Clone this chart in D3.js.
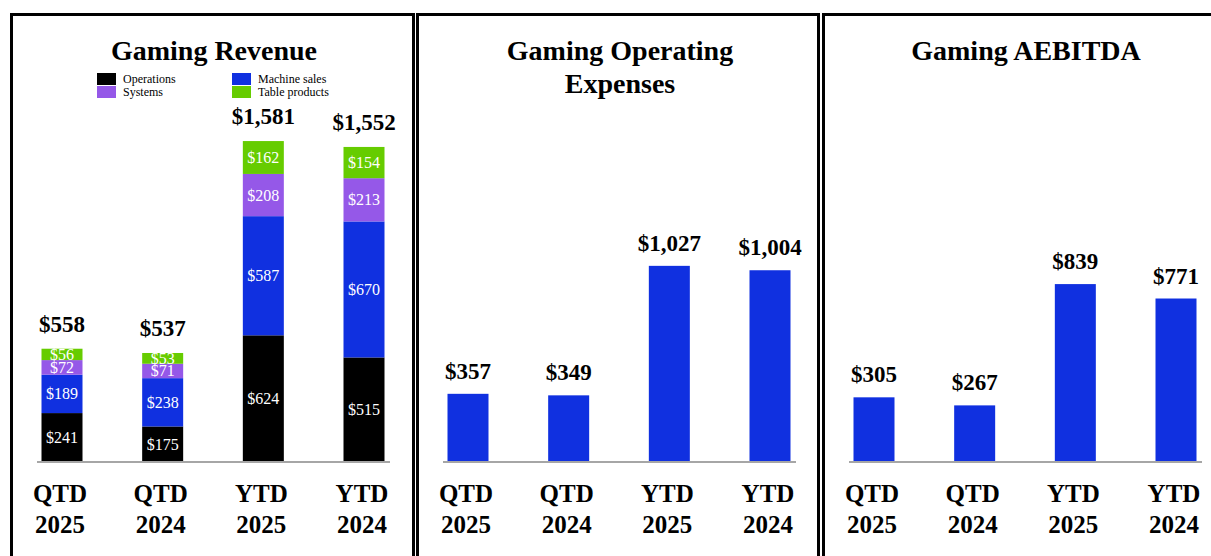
<!DOCTYPE html>
<html>
<head>
<meta charset="utf-8">
<script src="https://cdn.jsdelivr.net/npm/d3@7"></script>
<style>
  body { margin: 0; background: #fff; }
  svg { display: block; font-family: "Liberation Serif", "Times New Roman", serif; }
</style>
</head>
<body>
<div id="chart"></div>
<script>
//////////////////// DATA ////////////////////
var categories = [["QTD", "2025"], ["QTD", "2024"], ["YTD", "2025"], ["YTD", "2024"]];

var segmentNames  = ["Operations", "Machine sales", "Systems", "Table products"];
var segmentColors = ["#000000", "#1030e0", "#9558e8", "#66cc00"];

var operations    = [241, 175, 624, 515];
var machineSales  = [189, 238, 587, 670];
var systems       = [72, 71, 208, 213];
var tableProducts = [56, 53, 162, 154];
var revenueTotals = [558, 537, 1581, 1552];

var opExpenses = [357, 349, 1027, 1004];
var aebitda    = [305, 267, 839, 771];

//////////////////// CONFIG ////////////////////
var W = 1211, H = 556;
var baseY = 462;
var barW = 41;
var serifBold = "bold";

var panels = [
  { x: 10,  w: 405, title: ["Gaming Revenue"], yMax: 1734, gap: 17 },
  { x: 416, w: 404, title: ["Gaming Operating", "Expenses"], yMax: 1843, gap: 15, values: opExpenses },
  { x: 822, w: 420, title: ["Gaming AEBITDA"], yMax: 1660, gap: 15, values: aebitda }
];

var svg = d3.select("#chart").append("svg")
    .attr("width", W)
    .attr("height", H);

var fmt = function(v) { return "$" + d3.format(",")(v); };

panels.forEach(function(p, pi) {
  var g = svg.append("g").attr("transform", "translate(" + p.x + ",0)");

  // panel frame (runs off the bottom / right edge)
  g.append("rect")
      .attr("x", 1.5).attr("y", 14.5)
      .attr("width", p.w - 3).attr("height", H + 20)
      .attr("fill", "none")
      .attr("stroke", "#000")
      .attr("stroke-width", 3);

  // title
  g.append("text")
      .attr("x", 204).attr("y", 60)
      .attr("text-anchor", "middle")
      .attr("font-size", 28).attr("font-weight", serifBold)
      .selectAll("tspan").data(p.title).enter().append("tspan")
        .attr("x", 204)
        .attr("dy", function(d, i) { return i ? 33 : 0; })
        .text(function(d) { return d; });

  var x = d3.scalePoint()
      .domain(d3.range(categories.length))
      .range([52, 354]);

  var y = d3.scaleLinear()
      .domain([0, p.yMax])
      .range([baseY, baseY - 352]);

  var totals;

  if (pi === 0) {
    // stacked revenue
    var rows = categories.map(function(c, i) {
      return { "Operations": operations[i], "Machine sales": machineSales[i],
               "Systems": systems[i], "Table products": tableProducts[i] };
    });
    var stack = d3.stack().keys(segmentNames)(rows);
    var color = d3.scaleOrdinal().domain(segmentNames).range(segmentColors);

    var layer = g.selectAll("g.layer").data(stack).enter().append("g")
        .attr("class", "layer")
        .attr("fill", function(d) { return color(d.key); });

    layer.selectAll("rect").data(function(d) { return d; }).enter().append("rect")
        .attr("x", function(d, i) { return x(i) - barW / 2; })
        .attr("y", function(d) { return y(d[1]); })
        .attr("width", barW)
        .attr("height", function(d) { return y(d[0]) - y(d[1]); });

    layer.selectAll("text").data(function(d) { return d; }).enter().append("text")
        .attr("x", function(d, i) { return x(i); })
        .attr("y", function(d) { return (y(d[0]) + y(d[1])) / 2 + 5.5; })
        .attr("text-anchor", "middle")
        .attr("font-size", 16)
        .attr("fill", "#fff")
        .text(function(d) { return fmt(d[1] - d[0]); });

    // legend
    var legendPos = [[87, 73], [222, 73], [87, 86], [222, 86]];
    var leg = g.selectAll("g.leg").data(segmentNames).enter().append("g")
        .attr("class", "leg")
        .attr("transform", function(d, i) { return "translate(" + legendPos[i][0] + "," + legendPos[i][1] + ")"; });
    leg.append("rect")
        .attr("width", 19).attr("height", 12)
        .attr("fill", function(d) { return color(d); });
    leg.append("text")
        .attr("x", 26).attr("y", 10)
        .attr("font-size", 12)
        .text(function(d) { return d; });

    totals = revenueTotals;
  } else {
    g.selectAll("rect.bar").data(p.values).enter().append("rect")
        .attr("class", "bar")
        .attr("x", function(d, i) { return x(i) - barW / 2; })
        .attr("y", function(d) { return y(d); })
        .attr("width", barW)
        .attr("height", function(d) { return baseY - y(d); })
        .attr("fill", "#1030e0");
    totals = p.values;
  }

  // value labels above bars
  g.selectAll("text.total").data(totals).enter().append("text")
      .attr("class", "total")
      .attr("x", function(d, i) { return x(i); })
      .attr("y", function(d) { return y(d) - p.gap; })
      .attr("text-anchor", "middle")
      .attr("font-size", 23).attr("font-weight", serifBold)
      .text(fmt);

  // baseline
  g.append("line")
      .attr("x1", 27).attr("x2", 380)
      .attr("y1", baseY).attr("y2", baseY)
      .attr("stroke", "#a6a6a6")
      .attr("stroke-width", 2);

  // category labels
  var cat = g.selectAll("text.cat").data(categories).enter().append("text")
      .attr("class", "cat")
      .attr("text-anchor", "middle")
      .attr("font-size", 25).attr("font-weight", serifBold);
  cat.append("tspan")
      .attr("x", function(d, i) { return x(i) - 2; })
      .attr("y", 502)
      .text(function(d) { return d[0]; });
  cat.append("tspan")
      .attr("x", function(d, i) { return x(i) - 2; })
      .attr("y", 533)
      .text(function(d) { return d[1]; });
});
</script>
</body>
</html>
